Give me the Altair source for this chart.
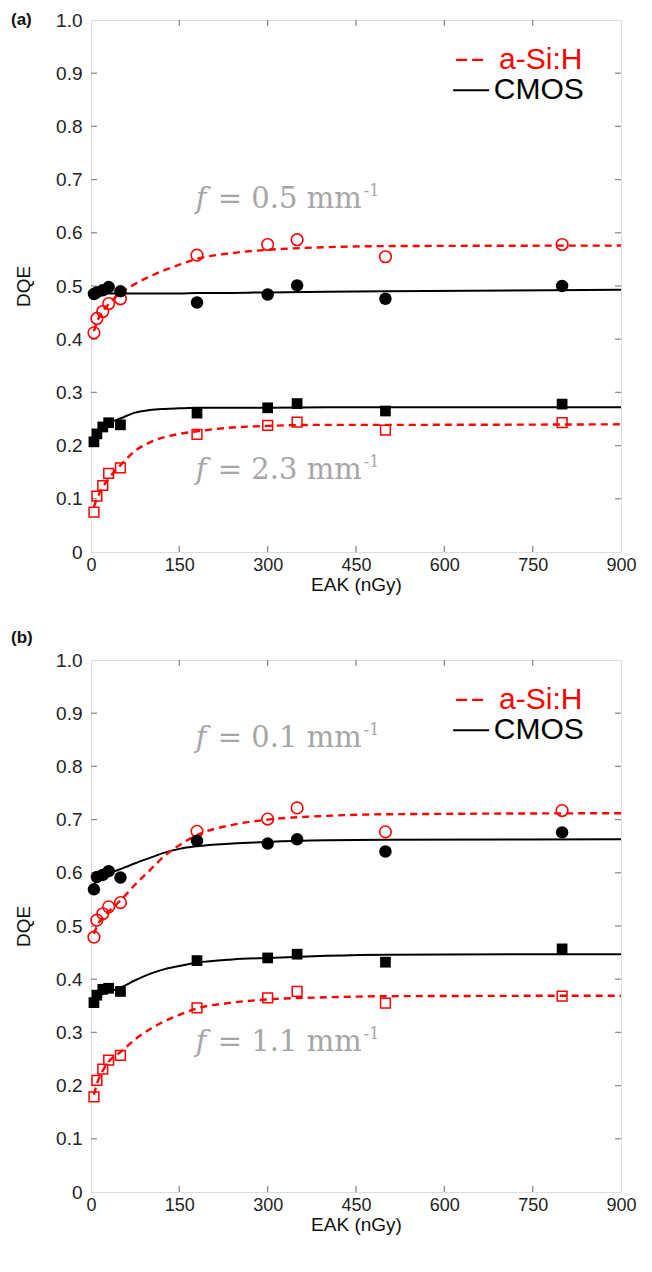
import altair as alt
import pandas as pd

# ---------------- data ----------------
eak = [5, 10, 20, 30, 50, 180, 300, 350, 500, 800]

# panel (a)
a_cmos_f05 = [0.485, 0.488, 0.492, 0.498, 0.490, 0.469, 0.484, 0.501, 0.476, 0.500]
a_asi_f05 = [0.412, 0.439, 0.452, 0.467, 0.476, 0.558, 0.578, 0.587, 0.555, 0.578]
a_cmos_f23 = [0.207, 0.222, 0.235, 0.243, 0.239, 0.261, 0.271, 0.279, 0.265, 0.278]
a_asi_f23 = [0.075, 0.105, 0.125, 0.148, 0.158, 0.221, 0.238, 0.244, 0.229, 0.243]

# panel (b)
b_cmos_f01 = [0.569, 0.592, 0.596, 0.603, 0.591, 0.660, 0.655, 0.663, 0.640, 0.676]
b_asi_f01 = [0.479, 0.511, 0.523, 0.536, 0.544, 0.678, 0.701, 0.722, 0.677, 0.717]
b_cmos_f11 = [0.356, 0.370, 0.381, 0.383, 0.377, 0.435, 0.440, 0.447, 0.432, 0.457]
b_asi_f11 = [0.179, 0.210, 0.231, 0.248, 0.257, 0.346, 0.365, 0.377, 0.355, 0.368]

# fitted curves
fit_eak = [5, 10, 20, 30, 50, 75, 100, 125, 150, 180, 240, 300, 400, 500, 900]
a_cmos_f05_fit = [0.486, 0.486, 0.486, 0.486, 0.486, 0.486, 0.486, 0.486, 0.486, 0.487, 0.487, 0.488, 0.489, 0.490, 0.493]
a_asi_f05_fit = [0.415, 0.432, 0.452, 0.466, 0.487, 0.504, 0.518, 0.530, 0.540, 0.551, 0.562, 0.568, 0.573, 0.575, 0.576]
a_cmos_f23_fit = [0.210, 0.222, 0.235, 0.242, 0.251, 0.262, 0.267, 0.269, 0.270, 0.271, 0.271, 0.271, 0.272, 0.272, 0.272]
a_asi_f23_fit = [0.085, 0.100, 0.122, 0.138, 0.163, 0.190, 0.206, 0.216, 0.222, 0.227, 0.234, 0.237, 0.239, 0.239, 0.240]
b_cmos_f01_fit = [0.578, 0.585, 0.592, 0.598, 0.607, 0.618, 0.628, 0.638, 0.645, 0.650, 0.655, 0.658, 0.661, 0.662, 0.663]
b_asi_f01_fit = [0.485, 0.500, 0.515, 0.527, 0.548, 0.578, 0.605, 0.632, 0.652, 0.671, 0.690, 0.700, 0.707, 0.710, 0.712]
b_cmos_f11_fit = [0.365, 0.368, 0.372, 0.376, 0.384, 0.398, 0.410, 0.419, 0.425, 0.431, 0.437, 0.440, 0.444, 0.446, 0.447]
b_asi_f11_fit = [0.183, 0.203, 0.228, 0.245, 0.263, 0.287, 0.306, 0.321, 0.333, 0.345, 0.356, 0.362, 0.366, 0.368, 0.369]

x_ticks = [0, 150, 300, 450, 600, 750, 900]
y_ticks = [0, 0.1, 0.2, 0.3, 0.4, 0.5, 0.6, 0.7, 0.8, 0.9, 1.0]

legend_labels = ["a-Si:H", "CMOS"]

# annotation texts: (frequency label, eak anchor, dqe baseline)
notes_a = [("0.5", 178, 0.647), ("2.3", 178, 0.137)]
notes_b = [("0.1", 178, 0.836), ("1.1", 178, 0.265)]

# ---------------- styling ----------------
W, H = 530, 532
RED = "#ff0000"
BLACK = "#000000"
AXG = "#8c8c8c"
NOTE = "#a6a6a6"
SANS = "Liberation Sans"
SERIF = "DejaVu Serif"

xs = alt.Scale(domain=[0, 900], nice=False, zero=False)
ys = alt.Scale(domain=[0, 1], nice=False)

XAXIS = alt.Axis(values=x_ticks, title="EAK (nGy)", labelFontSize=18, titleFontSize=19,
                 labelPadding=4, titlePadding=1, labelColor="#222", titleColor="#111",
                 labelFont=SANS, titleFont=SANS, titleFontWeight="normal",
                 domain=False, ticks=False, grid=False, labelFlush=False)
YAXIS = alt.Axis(values=y_ticks, title="DQE", labelFontSize=19, titleFontSize=19,
                 labelPadding=9, titlePadding=22, labelColor="#222", titleColor="#111",
                 labelFont=SANS, titleFont=SANS, titleFontWeight="normal",
                 labelExpr="datum.value == 0 ? '0' : format(datum.value, '.1f')",
                 domain=False, ticks=False, grid=False, labelFlush=False)


def X():
    return alt.X("eak:Q", scale=xs, axis=XAXIS)


def Y():
    return alt.Y("dqe:Q", scale=ys, axis=YAXIS)


def pts(vals):
    return pd.DataFrame({"eak": eak, "dqe": vals})


def fit(vals):
    return pd.DataFrame({"eak": fit_eak, "dqe": vals})


def panel(tag, tag_y, cmos_c, asi_c, cmos_s, asi_s, fits, notes):
    layers = []

    # inward ticks on all four sides
    xt = pd.DataFrame({"eak": x_ticks[1:-1]})
    yt = pd.DataFrame({"dqe": y_ticks[1:-1]})
    tk = dict(color=AXG, strokeWidth=1.3)
    layers.append(alt.Chart(xt).mark_rule(**tk).encode(x=X(), y=alt.value(H), y2=alt.value(H - 6)))
    layers.append(alt.Chart(xt).mark_rule(**tk).encode(x=X(), y=alt.value(0), y2=alt.value(6)))
    layers.append(alt.Chart(yt).mark_rule(**tk).encode(y=Y(), x=alt.value(0), x2=alt.value(6)))
    layers.append(alt.Chart(yt).mark_rule(**tk).encode(y=Y(), x=alt.value(W), x2=alt.value(W - 6)))

    # fitted curves
    (fc_c, fa_c, fc_s, fa_s) = fits
    for vals in (fc_c, fc_s):
        layers.append(alt.Chart(fit(vals)).mark_line(color=BLACK, strokeWidth=2, interpolate="monotone",
                                                    clip=True).encode(x=X(), y=Y()))
    for vals in (fa_c, fa_s):
        layers.append(alt.Chart(fit(vals)).mark_line(color=RED, strokeWidth=2.4, strokeDash=[7, 5],
                                                    interpolate="monotone", clip=True).encode(x=X(), y=Y()))

    # markers
    layers.append(alt.Chart(pts(asi_c)).mark_point(shape="circle", filled=False, color=RED, size=135,
                                                   strokeWidth=1.6, opacity=1).encode(x=X(), y=Y()))
    layers.append(alt.Chart(pts(asi_s)).mark_point(shape="square", filled=False, color=RED, size=95,
                                                   strokeWidth=1.5, opacity=1).encode(x=X(), y=Y()))
    layers.append(alt.Chart(pts(cmos_c)).mark_point(shape="circle", filled=True, color=BLACK, size=155,
                                                    opacity=1).encode(x=X(), y=Y()))
    layers.append(alt.Chart(pts(cmos_s)).mark_point(shape="square", filled=True, color=BLACK, size=115,
                                                    opacity=1).encode(x=X(), y=Y()))

    # annotations  f = ... mm-1
    nd = pd.DataFrame({"eak": [n[1] for n in notes], "dqe": [n[2] for n in notes],
                       "txt": ["= " + n[0] + " mm" for n in notes]})
    layers.append(alt.Chart(nd).mark_text(text="f", font=SERIF, fontStyle="italic", fontSize=29,
                                          color=NOTE, align="left", baseline="alphabetic").encode(x=X(), y=Y()))
    layers.append(alt.Chart(nd).mark_text(font=SERIF, fontSize=29, color=NOTE, align="left",
                                          baseline="alphabetic", dx=22).encode(x=X(), y=Y(), text="txt:N"))
    layers.append(alt.Chart(nd).mark_text(text="-1", font=SERIF, fontSize=16, color=NOTE, align="left",
                                          baseline="alphabetic", dx=168, dy=-12).encode(x=X(), y=Y()))

    # legend (drawn through the data scales)
    lg_line = pd.DataFrame({"eak": [620, 615], "eak2": [667, 676], "dqe": [0.925, 0.868]})
    lg_text = pd.DataFrame({"eak": [693, 684], "dqe": [0.925, 0.868], "lab": legend_labels})
    layers.append(alt.Chart(lg_line.iloc[[0]]).mark_rule(color=RED, strokeWidth=2.4, strokeDash=[11, 5]).encode(
        x=X(), x2="eak2:Q", y=Y()))
    layers.append(alt.Chart(lg_line.iloc[[1]]).mark_rule(color=BLACK, strokeWidth=2).encode(
        x=X(), x2="eak2:Q", y=Y()))
    layers.append(alt.Chart(lg_text.iloc[[0]]).mark_text(font=SANS, fontSize=30, color=RED, align="left",
                                                         baseline="middle").encode(x=X(), y=Y(), text="lab:N"))
    layers.append(alt.Chart(lg_text.iloc[[1]]).mark_text(font=SANS, fontSize=30, color=BLACK, align="left",
                                                         baseline="middle").encode(x=X(), y=Y(), text="lab:N"))

    # panel tag
    layers.append(alt.Chart(pd.DataFrame({"t": [tag]})).mark_text(font=SANS, fontSize=17, fontWeight="bold",
                                                                  color="#111", align="left",
                                                                  baseline="middle").encode(
        x=alt.value(-80), y=alt.value(tag_y), text="t:N"))

    return alt.layer(*layers).properties(width=W, height=H)


pa = panel("(a)", 0, a_cmos_f05, a_asi_f05, a_cmos_f23, a_asi_f23,
           (a_cmos_f05_fit, a_asi_f05_fit, a_cmos_f23_fit, a_asi_f23_fit), notes_a)
pb = panel("(b)", -22, b_cmos_f01, b_asi_f01, b_cmos_f11, b_asi_f11,
           (b_cmos_f01_fit, b_asi_f01_fit, b_cmos_f11_fit, b_asi_f11_fit), notes_b)

chart = alt.vconcat(pa, pb, spacing=33).properties(
    padding={"left": 2, "top": 2, "right": 5, "bottom": 5}
).configure_view(stroke=AXG, strokeWidth=1.5).configure(background="white")

chart.save("out.html", embed_options={"renderer": "svg", "actions": False})
